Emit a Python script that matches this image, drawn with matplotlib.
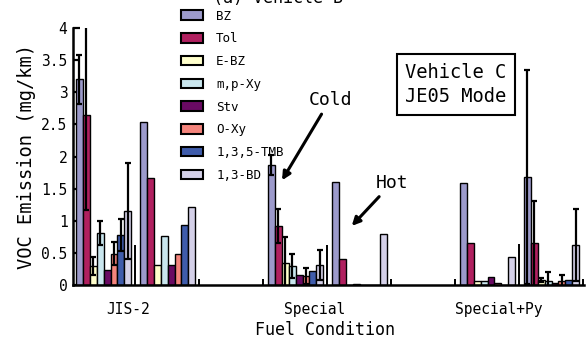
import numpy as np
import matplotlib.pyplot as plt
from matplotlib.patches import Patch

plt.rcParams['font.family'] = 'DejaVu Sans Mono'

species = ["BZ", "Tol", "E-BZ", "m,p-Xy", "Stv", "O-Xy", "1,3,5-TMB", "1,3-BD"]
colors = ["#9c9acb", "#b0205f", "#ffffcc", "#c9e6ee", "#6a0a63", "#f4847c", "#3f5cab", "#d4d0e8"]
conditions = ["JIS-2", "Special", "Special+Py"]

# cold start (with error bars)
cold_jis2 = [3.20, 2.64, 0.30, 0.81, 0.24, 0.49, 0.78, 1.15]
cold_jis2_err = [0.38, 1.47, 0.14, 0.19, 0, 0.18, 0.25, 0.75]
cold_special = [1.87, 0.92, 0.34, 0.30, 0.15, 0.14, 0.22, 0.31]
cold_special_err = [0.16, 0.27, 0.40, 0.19, 0, 0.12, 0, 0.23]
cold_py = [1.68, 0.65, 0.08, 0.06, 0.03, 0.06, 0.08, 0.62]
cold_py_err = [1.66, 0.66, 0.03, 0.14, 0, 0.10, 0, 0.56]

# hot start
hot_jis2 = [2.54, 1.67, 0.31, 0.77, 0.31, 0.49, 0.93, 1.21]
hot_special = [1.61, 0.40, 0, 0.02, 0, 0, 0, 0.80]
hot_py = [1.58, 0.65, 0.06, 0.06, 0.12, 0.03, 0, 0.43]

# leftover short lines between sub-groups in the original sheet
stray_lines = [0.63, 0.10, 0.10, 0.63, 0.10, 0.10, 0.64, 0.10]

cold = [cold_jis2, cold_special, cold_py]
cold_err = [cold_jis2_err, cold_special_err, cold_py_err]
hot = [hot_jis2, hot_special, hot_py]
cold_slot = [0, 3, 7]
hot_slot = [1, 4, 6]
label_pos = [0.81, 3.73, 6.61]
w = 0.108

fig = plt.figure(figsize=(5.86, 3.41), dpi=100)
ax = fig.add_axes([0.1246, 0.1642, 0.8720, 0.7537])

for c in range(3):
    x0 = cold_slot[c] + np.arange(8) * w
    ax.bar(x0, cold[c], width=w, align='edge', color=colors, edgecolor='black', linewidth=1.0, zorder=2)
    err = np.array(cold_err[c])
    m = err > 0
    ax.errorbar(x0[m] + w / 2, np.array(cold[c])[m], yerr=err[m], fmt='none', ecolor='black',
                elinewidth=1.6, capsize=2.5, capthick=1.6, zorder=3)
    x1 = hot_slot[c] + np.arange(8) * w
    ax.bar(x1, hot[c], width=w, align='edge', color=colors, edgecolor='black', linewidth=1.0, zorder=2)

sx = np.arange(1, 9) - 0.078
ax.vlines(sx, 0, stray_lines, color='black', lw=1.4, zorder=2)

ax.set_xlim(-0.047, 7.94)
ax.set_ylim(0, 4)
ax.set_yticks(np.arange(0, 4.01, 0.5))
ax.set_yticklabels(["0", "0.5", "1", "1.5", "2", "2.5", "3", "3.5", "4"], fontsize=10.5)
ax.set_xticks(label_pos)
ax.set_xticklabels(conditions, fontsize=10.5)
ax.tick_params(axis='y', direction='in', length=5, width=1.6, pad=4)
ax.tick_params(axis='x', length=0, pad=12)
for s in ['top', 'right']:
    ax.spines[s].set_visible(False)
for s in ['left', 'bottom']:
    ax.spines[s].set_linewidth(1.8)

ax.set_ylabel("VOC Emission (mg/km)", fontsize=13.5)
ax.yaxis.set_label_coords(-0.073, 0.5)
ax.set_xlabel("Fuel Condition", fontsize=12)
ax.xaxis.set_label_coords(0.493, -0.14)

handles = [Patch(facecolor=col, edgecolor='black', linewidth=1.5) for col in colors]
fig.legend(handles, species, loc='upper left', bbox_to_anchor=(0.309, 0.972), frameon=False,
           fontsize=9, handlelength=1.76, handleheight=0.8, handletextpad=1.04,
           labelspacing=0.78, borderpad=0, borderaxespad=0)

arrow = dict(arrowstyle='-|>', lw=2.2, color='black', mutation_scale=12, shrinkA=2, shrinkB=0)
ax.annotate("Cold", xy=(3.22, 1.63), xytext=(3.97, 2.88), fontsize=13, ha='center', va='center',
            arrowprops=arrow)
ax.annotate("Hot", xy=(4.31, 0.92), xytext=(4.94, 1.59), fontsize=13, ha='center', va='center',
            arrowprops=arrow)

ax.text(5.94, 3.12, "Vehicle C\nJE05 Mode", fontsize=13.5, ha='center', va='center',
        multialignment='left', linespacing=1.35,
        bbox=dict(boxstyle='square,pad=0.45', facecolor='white', edgecolor='black', linewidth=1.5))

fig.text(278 / 586, 1 - 3 / 341, "(a) Vehicle B", fontsize=12, ha='center', va='baseline')

fig.savefig("out.png", dpi=100)
